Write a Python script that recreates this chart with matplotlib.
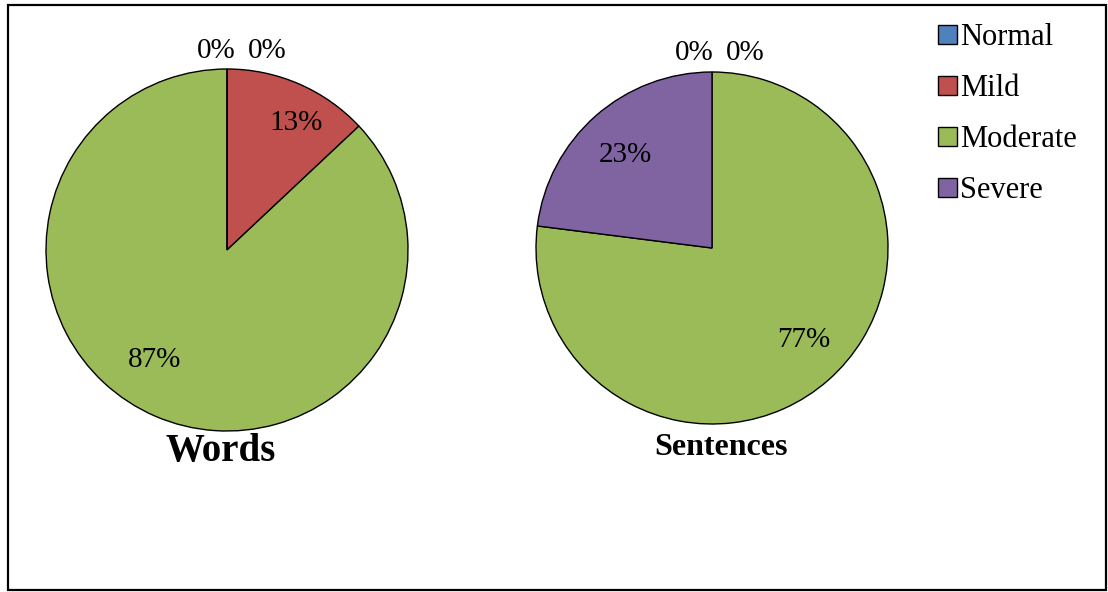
import matplotlib.pyplot as plt
from matplotlib.patches import Rectangle

plt.rcParams['font.family'] = ['Liberation Serif', 'DejaVu Serif']

categories = ['Normal', 'Mild', 'Moderate', 'Severe']
colors = ['#4F81BD', '#C0504D', '#9BBB59', '#8064A2']
words = [0, 13, 87, 0]
sentences = [0, 0, 77, 23]

# label positions in pie units (radius = 1)
words_lbl = [(-0.06, 1.10), (0.38, 0.70), (-0.40, -0.61), (0.22, 1.10)]
sent_lbl = [(-0.10, 1.11), (0.19, 1.11), (0.52, -0.52), (-0.49, 0.53)]

W, H = 1108, 592
fig = plt.figure(figsize=(W / 100, H / 100), dpi=100)


def pie_axes(cx, cy, r):
    return fig.add_axes([(cx - r) / W, (H - cy - r) / H, 2 * r / W, 2 * r / H])


def draw_pie(ax, vals, lbls):
    wedges, _ = ax.pie(vals, colors=colors, startangle=90, counterclock=False,
                       wedgeprops=dict(edgecolor='black', linewidth=1.0))
    for v, (x, y) in zip(vals, lbls):
        ax.text(x, y, f'{v}%', ha='center', va='center', fontsize=21)
    ax.set_xlim(-1, 1)
    ax.set_ylim(-1, 1)
    ax.set_aspect('equal')
    ax.axis('off')
    return wedges


ax1 = pie_axes(227, 250, 181)
wedges = draw_pie(ax1, words, words_lbl)
ax2 = pie_axes(712, 248, 176)
draw_pie(ax2, sentences, sent_lbl)

fig.text(221 / W, 1 - 461 / H, 'Words', ha='center', va='baseline',
         fontsize=28, fontweight='bold')
fig.text(721 / W, 1 - 455 / H, 'Sentences', ha='center', va='baseline',
         fontsize=23, fontweight='bold')

handles = [Rectangle((0, 0), 1, 1, facecolor=c, edgecolor='black', linewidth=1.0)
           for c in colors]
fig.legend(handles, categories, loc='upper left',
           bbox_to_anchor=(923 / W, 1 - 8 / H), frameon=False, fontsize=22,
           handlelength=0.6, handleheight=0.6, handletextpad=0.1,
           labelspacing=0.72, borderpad=0)

fig.patches.append(Rectangle((8 / W, 2 / H), 1098 / W, 585 / H,
                             transform=fig.transFigure, fill=False,
                             edgecolor='black', linewidth=1.6))

fig.savefig('out.png', dpi=100)
